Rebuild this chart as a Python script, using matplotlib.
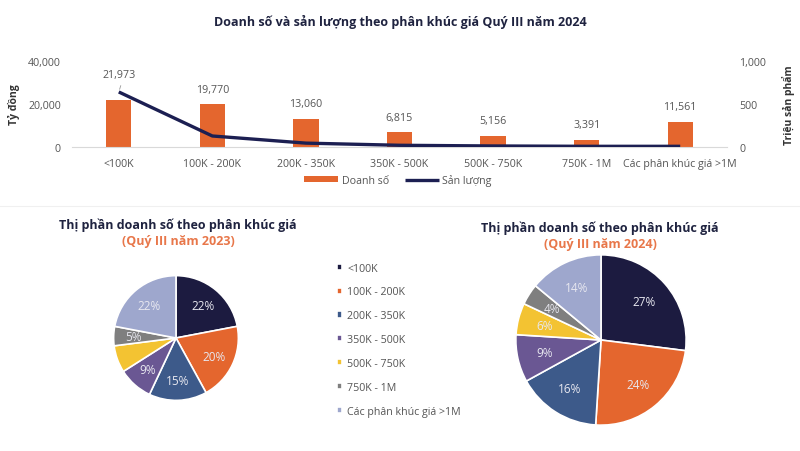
import matplotlib
matplotlib.use("Agg")
import matplotlib.pyplot as plt
import numpy as np

plt.rcParams['font.family'] = ['Open Sans', 'DejaVu Sans']

categories = ['<100K', '100K - 200K', '200K - 350K', '350K - 500K',
              '500K - 750K', '750K - 1M', 'Các phân khúc giá >1M']
doanh_so = [21973, 19770, 13060, 6815, 5156, 3391, 11561]
san_luong = [640, 128, 45, 20, 12, 8, 8]

share_2023 = [22, 20, 15, 9, 7, 5, 22]
share_2024 = [27, 24, 16, 9, 6, 4, 14]
share_labels_2023 = ['22%', '20%', '15%', '9%', '', '5%', '22%']
share_labels_2024 = ['27%', '24%', '16%', '9%', '6%', '4%', '14%']

pie_colors = ['#1c1b40', '#e4662e', '#3d5a8a', '#6a5793', '#f3c332', '#7f7f7f', '#9ea7cd']
bar_color = '#e4662e'
line_color = '#1c1f52'
title_color = '#1f2340'
text_color = '#555555'

W, H = 800, 452
fig = plt.figure(figsize=(8, 4.52), dpi=100)

def box(x0, y0, x1, y1):
    # pixel box (top-left origin) -> figure fraction
    return [x0 / W, 1 - y1 / H, (x1 - x0) / W, (y1 - y0) / H]

# ---- top combo chart ----
ax = fig.add_axes(box(72, 62, 727, 148))
x = np.arange(len(categories))
ax.bar(x, doanh_so, width=0.27, color=bar_color, label='Doanh số', zorder=2)
ax.set_xlim(-0.5, len(categories) - 0.5)
ax.set_ylim(0, 40000)
ax.set_yticks([0, 20000, 40000])
ax.set_yticklabels(['0', '20,000', '40,000'])
ax.set_xticks(x)
ax.set_xticklabels(categories)
ax.tick_params(axis='both', length=0, labelsize=7.7, labelcolor=text_color, pad=8)
for s in ['top', 'right', 'left']:
    ax.spines[s].set_visible(False)
ax.spines['bottom'].set_color('#d9d9d9')
ax.set_ylabel('Tỷ đồng', fontsize=7.5, fontweight='bold', color='#333333', labelpad=6)

for i, v in enumerate(doanh_so):
    off = 14 if i == 0 else 7
    ax.annotate(f'{v:,}', (x[i], v), xytext=(0, off), textcoords='offset points',
                ha='center', va='bottom', fontsize=7.7, color=text_color)
# leader line for first label
ax.annotate('', xy=(x[0], 25600), xytext=(x[0] + 0.03, 29800),
            arrowprops=dict(arrowstyle='-', color='#999999', lw=0.6))

ax2 = ax.twinx()
ax2.plot(x, san_luong, color=line_color, lw=2.4, label='Sản lượng', zorder=3,
         solid_capstyle='butt')
ax2.set_ylim(0, 1000)
ax2.set_yticks([0, 500, 1000])
ax2.set_yticklabels(['0', '500', '1,000'])
ax2.tick_params(axis='y', length=0, labelsize=7.7, labelcolor=text_color, pad=9)
for s in ['top', 'right', 'left', 'bottom']:
    ax2.spines[s].set_visible(False)
ax2.set_ylabel('Triệu sản phẩm', fontsize=7.5, fontweight='bold', color='#333333', labelpad=11)

h1, l1 = ax.get_legend_handles_labels()
h2, l2 = ax2.get_legend_handles_labels()
fig.legend(h1 + h2, l1 + l2, loc='center', bbox_to_anchor=(398 / W, 1 - 181 / H),
           ncol=2, frameon=False, fontsize=7.7, labelcolor=text_color,
           handlelength=3.2, handleheight=0.5, columnspacing=1.5, handletextpad=0.3)

fig.text(0.5, 1 - 22 / H, 'Doanh số và sản lượng theo phân khúc giá Quý III năm 2024',
         ha='center', va='center', fontsize=9, fontweight='bold', color=title_color)

# faint separator
fig.add_artist(plt.Line2D([0, 1], [1 - 207 / H, 1 - 207 / H], color='#f0f0f0', lw=0.8))

# ---- pies ----
def draw_pie(rect, values, labels, title, sub, tx, ty):
    pax = fig.add_axes(rect)
    wedges, _ = pax.pie(values, colors=pie_colors, startangle=90, counterclock=False,
                        wedgeprops=dict(edgecolor='white', linewidth=1.2))
    for w, lab in zip(wedges, labels):
        ang = np.deg2rad((w.theta1 + w.theta2) / 2)
        pax.text(0.68 * np.cos(ang), 0.68 * np.sin(ang), lab, ha='center', va='center',
                 fontsize=8.5, color='#e8e8f0')
    pax.set_xlim(-1.01, 1.01)
    pax.set_ylim(-1.01, 1.01)
    pax.set_aspect('equal')
    fig.text(tx / W, 1 - ty / H, title, ha='center', va='center', fontsize=9,
             fontweight='bold', color=title_color)
    fig.text(tx / W, 1 - (ty + 17) / H, sub, ha='center', va='center', fontsize=9,
             fontweight='bold', color='#e8774a')
    return wedges

wedges = draw_pie(box(113, 276, 239, 402), share_2023, share_labels_2023,
                  'Thị phần doanh số theo phân khúc giá', '(Quý III năm 2023)', 178, 225)
draw_pie(box(515, 255, 687, 427), share_2024, share_labels_2024,
         'Thị phần doanh số theo phân khúc giá', '(Quý III năm 2024)', 600, 228)

fig.legend(wedges, categories, loc='upper left', bbox_to_anchor=(327 / W, 1 - 254 / H),
           frameon=False, fontsize=7.7, labelcolor=text_color, handlelength=0.5,
           handleheight=0.5, handletextpad=0.5, labelspacing=1.2)

fig.savefig('out.png', dpi=100)
